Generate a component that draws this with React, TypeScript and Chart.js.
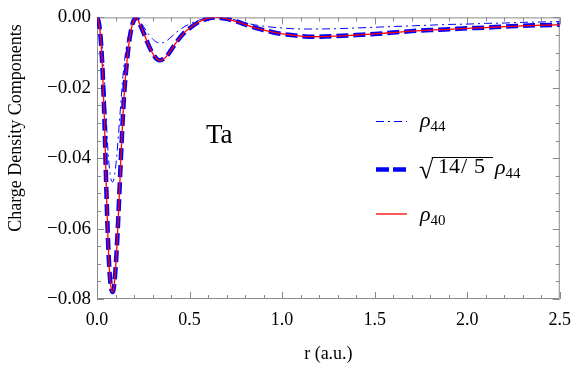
import React, { useEffect, useRef } from "react";
import { Chart, registerables } from "chart.js";

Chart.register(...registerables);

// radius (a.u.)
const rValues = [
  0, 0.01, 0.02, 0.03, 0.04, 0.05, 0.06, 0.07, 0.083, 0.09, 0.1, 0.11, 0.12, 0.13, 0.14, 0.15, 0.16, 0.17,
  0.18, 0.19, 0.2, 0.213, 0.23, 0.25, 0.27, 0.29, 0.31, 0.325, 0.34, 0.36, 0.38, 0.4, 0.42, 0.45, 0.48, 0.5,
  0.55, 0.6, 0.64, 0.7, 0.75, 0.8, 0.85, 0.9, 0.95, 1.0, 1.05, 1.1, 1.18, 1.3, 1.4, 1.5, 1.6, 1.7, 1.8, 1.9,
  2.0, 2.1, 2.2, 2.3, 2.4, 2.5,
];

// rho_44 (thin dash-dot)
const rho44 = [
  0, -0.0009, -0.0036, -0.009, -0.0174, -0.0287, -0.0383, -0.0443, -0.0467, -0.0462, -0.0428, -0.0374,
  -0.0305, -0.0234, -0.0168, -0.0117, -0.0081, -0.0051, -0.0029, -0.0013, -0.0004, 0, -0.0011, -0.0025,
  -0.0041, -0.0055, -0.0066, -0.0071, -0.0073, -0.0071, -0.0065, -0.0056, -0.0046, -0.0034, -0.0024,
  -0.0019, -0.0008, -0.0002, 0, -0.0003, -0.0008, -0.0015, -0.0021, -0.0025, -0.0028, -0.003, -0.0032,
  -0.0033, -0.0033, -0.0032, -0.003, -0.0028, -0.0026, -0.0024, -0.0022, -0.002, -0.0019, -0.0017,
  -0.0016, -0.0014, -0.0013, -0.0012,
];

// sqrt(14/5) rho_44 (thick dashed)
const rho44Scaled = [
  0, -0.0015, -0.006, -0.015, -0.029, -0.048, -0.064, -0.074, -0.078, -0.0772, -0.0715, -0.0625, -0.051,
  -0.039, -0.028, -0.0195, -0.0135, -0.0085, -0.0048, -0.0022, -0.0007, 0, -0.0018, -0.0042, -0.0068,
  -0.0092, -0.011, -0.0119, -0.0122, -0.0118, -0.0108, -0.0093, -0.0077, -0.0056, -0.0039, -0.0031,
  -0.0013, -0.0003, 0, -0.0004, -0.0011, -0.002, -0.0029, -0.0036, -0.0042, -0.0047, -0.005, -0.0053,
  -0.0055, -0.0053, -0.005, -0.0047, -0.0043, -0.0039, -0.0036, -0.0034, -0.0031, -0.0029, -0.0026,
  -0.0024, -0.0022, -0.0021,
];

// rho_40 (thin red)
const rho40 = [
  0, -0.0015, -0.006, -0.015, -0.029, -0.048, -0.064, -0.074, -0.078, -0.0772, -0.0715, -0.0625, -0.051,
  -0.039, -0.028, -0.0195, -0.0135, -0.0085, -0.0048, -0.0022, -0.0007, 0, -0.0018, -0.0042, -0.0068,
  -0.0092, -0.011, -0.0119, -0.0122, -0.0118, -0.0108, -0.0093, -0.0077, -0.0056, -0.0039, -0.0031,
  -0.0013, -0.0003, 0, -0.0004, -0.0011, -0.002, -0.0029, -0.0036, -0.0042, -0.0047, -0.005, -0.0053,
  -0.0055, -0.0053, -0.005, -0.0047, -0.0043, -0.0039, -0.0036, -0.0034, -0.0031, -0.0029, -0.0026,
  -0.0024, -0.0022, -0.0021,
];

const xMin = 0;
const xMax = 2.5;
const xMajorStep = 0.5;
const xMinorStep = 0.1;
const yMin = -0.08;
const yMax = 0;
const yMajorStep = 0.02;
const yMinorStep = 0.005;

const xTitle = "r (a.u.)";
const yTitle = "Charge Density Components";
const elementLabel = "Ta";

const SERIF = "'Liberation Serif', 'Times New Roman', serif";

const toPoints = (ys: number[]) => rValues.map((x, i) => ({ x, y: ys[i] }));

const framePlugin = {
  id: "frame",
  beforeDatasetsDraw(chart: any) {
    const { ctx, chartArea } = chart;
    const { left, right, top, bottom } = chartArea;
    const xs = chart.scales.x;
    const ys = chart.scales.y;
    ctx.save();
    ctx.strokeStyle = "#8a8a8a";
    ctx.lineWidth = 1;
    ctx.beginPath();
    ctx.rect(left + 0.5, top + 0.5, right - left - 1, bottom - top - 1);
    ctx.stroke();
    ctx.beginPath();
    const nx = Math.round((xMax - xMin) / xMinorStep);
    for (let i = 0; i <= nx; i++) {
      const v = xMin + i * xMinorStep;
      const px = Math.round(xs.getPixelForValue(v)) + 0.5;
      const major = i % Math.round(xMajorStep / xMinorStep) === 0;
      const len = major ? 7 : 4;
      ctx.moveTo(px, bottom);
      ctx.lineTo(px, bottom - len);
      ctx.moveTo(px, top);
      ctx.lineTo(px, top + len);
    }
    const ny = Math.round((yMax - yMin) / yMinorStep);
    for (let j = 0; j <= ny; j++) {
      const v = yMax - j * yMinorStep;
      const py = Math.round(ys.getPixelForValue(v)) + 0.5;
      const major = j % Math.round(yMajorStep / yMinorStep) === 0;
      const len = major ? 7 : 4;
      ctx.moveTo(left, py);
      ctx.lineTo(left + len, py);
      ctx.moveTo(right, py);
      ctx.lineTo(right - len, py);
    }
    ctx.stroke();
    ctx.restore();
  },
};

const annotationPlugin = {
  id: "annotations",
  afterDraw(chart: any) {
    const { ctx } = chart;
    ctx.save();
    ctx.fillStyle = "#000";
    ctx.textAlign = "left";
    ctx.textBaseline = "alphabetic";

    // y-axis title
    ctx.save();
    ctx.translate(16, 128);
    ctx.rotate(-Math.PI / 2);
    ctx.font = `18px ${SERIF}`;
    ctx.textAlign = "center";
    ctx.textBaseline = "middle";
    ctx.fillText(yTitle, 0, 0);
    ctx.restore();

    // element label
    ctx.font = `27px ${SERIF}`;
    ctx.fillText(elementLabel, 206, 143);

    // legend
    const sx0 = 376;
    const sx1 = 407;
    const drawSample = (y: number, color: string, width: number, dash: number[]) => {
      ctx.save();
      ctx.strokeStyle = color;
      ctx.lineWidth = width;
      ctx.setLineDash(dash);
      ctx.beginPath();
      ctx.moveTo(sx0, y);
      ctx.lineTo(sx1, y);
      ctx.stroke();
      ctx.restore();
    };
    const drawRho = (x: number, base: number, sub: string) => {
      ctx.font = `italic 22px ${SERIF}`;
      ctx.fillText("ρ", x, base);
      const w = ctx.measureText("ρ").width;
      ctx.font = `15px ${SERIF}`;
      ctx.fillText(sub, x + w, base + 4);
    };

    drawSample(121.5, "#0000ff", 1, [8, 4, 2, 4]);
    drawRho(420, 127, "44");

    drawSample(169.5, "#0000ff", 4.5, [13, 4]);
    ctx.font = `26px ${SERIF}`;
    ctx.fillText("√", 419, 178);
    const m = ctx.measureText("√");
    const topY = 178 - m.actualBoundingBoxAscent;
    ctx.font = `22px ${SERIF}`;
    ctx.fillText("14", 438, 173);
    ctx.fillText("/", 461, 173);
    ctx.fillText("5", 474, 173);
    ctx.save();
    ctx.strokeStyle = "#000";
    ctx.lineWidth = 1;
    ctx.beginPath();
    ctx.moveTo(419 + m.width - 1.5, topY + 0.5);
    ctx.lineTo(493, topY + 0.5);
    ctx.stroke();
    ctx.restore();
    drawRho(495, 174, "44");

    drawSample(214, "#ff0000", 1.3, []);
    drawRho(420, 221, "40");

    ctx.restore();
  },
};

export default function App() {
  const ref = useRef<HTMLCanvasElement | null>(null);
  useEffect(() => {
    if (!ref.current) return;
    const chart = new Chart(ref.current, {
      type: "line",
      data: {
        datasets: [
          {
            label: "ρ40",
            data: toPoints(rho40),
            borderColor: "#ff0000",
            borderWidth: 1.3,
            pointRadius: 0,
            cubicInterpolationMode: "monotone",
            order: 0,
          },
          {
            label: "√(14/5) ρ44",
            data: toPoints(rho44Scaled),
            borderColor: "#0000ff",
            borderWidth: 4.5,
            borderDash: [12, 5],
            pointRadius: 0,
            cubicInterpolationMode: "monotone",
            order: 1,
          },
          {
            label: "ρ44",
            data: toPoints(rho44),
            borderColor: "#0000ff",
            borderWidth: 1,
            borderDash: [8, 4, 2, 4],
            pointRadius: 0,
            cubicInterpolationMode: "monotone",
            order: 2,
          },
        ],
      },
      options: {
        animation: false,
        responsive: false,
        maintainAspectRatio: false,
        layout: { padding: { left: 0, top: 13, right: 18, bottom: 0 } },
        plugins: { legend: { display: false }, tooltip: { enabled: false } },
        scales: {
          x: {
            type: "linear",
            min: xMin,
            max: xMax,
            afterFit: (s: any) => {
              s.height = 67;
            },
            grid: { display: false, drawTicks: false },
            border: { display: false },
            ticks: {
              stepSize: xMajorStep,
              maxRotation: 0,
              autoSkip: false,
              padding: 10,
              color: "#000",
              font: { family: SERIF, size: 18 },
              callback: (v: any) => Number(v).toFixed(1),
            },
            title: {
              display: true,
              text: xTitle,
              color: "#000",
              font: { family: SERIF, size: 18 },
              padding: { top: 0, bottom: 1 },
            },
          },
          y: {
            type: "linear",
            min: yMin,
            max: yMax,
            afterFit: (s: any) => {
              s.width = 97;
            },
            grid: { display: false, drawTicks: false },
            border: { display: false },
            ticks: {
              stepSize: yMajorStep,
              autoSkip: false,
              padding: 6,
              color: "#000",
              font: { family: SERIF, size: 19 },
              callback: (v: any) => {
                const n = Number(v);
                if (Math.abs(n) < 1e-9) return "0.00";
                return (n < 0 ? "\u2212" : "") + Math.abs(n).toFixed(2);
              },
            },
          },
        },
      },
      plugins: [framePlugin, annotationPlugin],
    });
    return () => chart.destroy();
  }, []);
  return (
    <canvas
      ref={ref}
      width={581}
      height={366}
      style={{ position: "absolute", left: 0, top: 0, width: 581, height: 366 }}
    />
  );
}
